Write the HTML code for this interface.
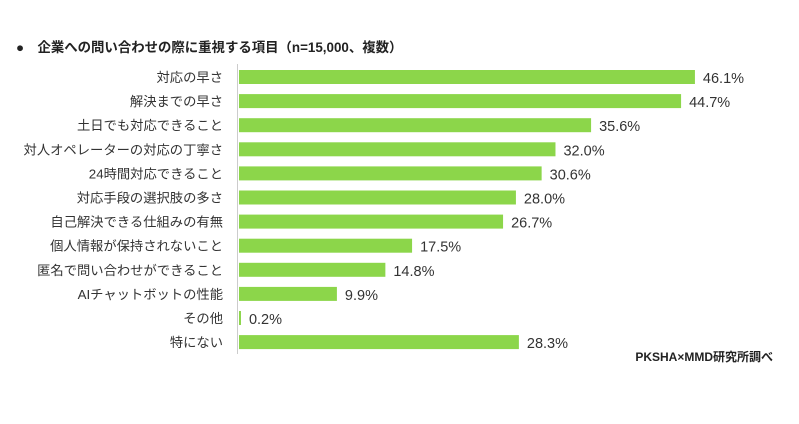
<!DOCTYPE html>
<html><head><meta charset="utf-8"><style>
body{margin:0;background:#fff;}
svg text{font-family:"Liberation Sans","Noto Sans CJK JP",sans-serif;}
</style></head><body>
<svg width="799" height="419" id="c">
<text x="16" y="52" font-size="13.4" font-weight="bold" fill="#222">●　企業への問い合わせの際に重視する項目（n=15,000、複数）</text>
<line x1="237.5" y1="64" x2="237.5" y2="354" stroke="#ccc" stroke-width="1"/>
<text x="773" y="361" font-size="12" font-weight="bold" fill="#222" text-anchor="end">PKSHA×MMD研究所調べ</text>
</svg>
<script>
const categories=["対応の早さ","解決までの早さ","土日でも対応できること","対人オペレーターの対応の丁寧さ","24時間対応できること","対応手段の選択肢の多さ","自己解決できる仕組みの有無","個人情報が保持されないこと","匿名で問い合わせができること","AIチャットボットの性能","その他","特にない"];
const values=[46.1,44.7,35.6,32.0,30.6,28.0,26.7,17.5,14.8,9.9,0.2,28.3];
const svg=document.getElementById('c');
const NS='http://www.w3.org/2000/svg';
const x0=239,scale=9.89,y0=77,step=24.1,bh=14;
const xs=v=>v*scale, ys=i=>y0+i*step;
categories.forEach((c,i)=>{
  const y=ys(i);
  const t=document.createElementNS(NS,'text');
  
  
  t.setAttribute('x',223);t.setAttribute('y',y+5);t.setAttribute('text-anchor','end');
  t.setAttribute('font-size','13.3');t.setAttribute('fill','#333');t.textContent=c;svg.appendChild(t);
  const r=document.createElementNS(NS,'rect');
  
  
  r.setAttribute('x',x0);r.setAttribute('y',y-bh/2);r.setAttribute('width',Math.max(xs(values[i]),1.5));r.setAttribute('height',bh);
  r.setAttribute('fill','#8cd64a');svg.appendChild(r);
  const v=document.createElementNS(NS,'text');
  
  
  v.setAttribute('x',x0+Math.max(xs(values[i]),1.5)+8);v.setAttribute('y',y+6);
  v.setAttribute('font-size','14.5');v.setAttribute('fill','#333');v.textContent=values[i].toFixed(1)+'%';svg.appendChild(v);
});
</script>
</body></html>
